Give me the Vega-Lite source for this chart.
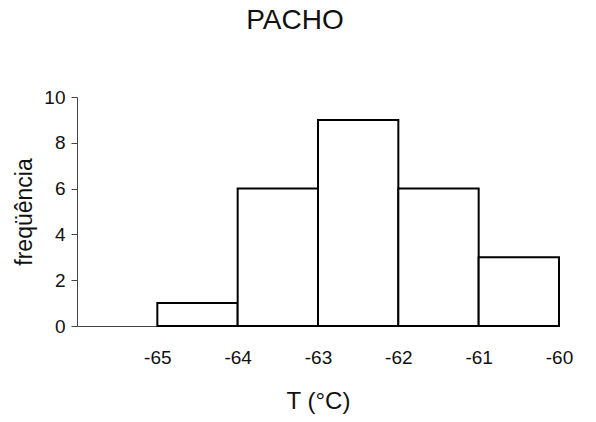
{
  "$schema": "https://vega.github.io/schema/vega-lite/v6.json",
  "width": 482,
  "height": 229,
  "autosize": {"type": "none"},
  "padding": {"left": 77, "top": 97, "right": 37, "bottom": 96},
  "background": "white",
  "title": {
    "text": "PACHO",
    "font": "Liberation Sans",
    "fontSize": 28,
    "fontWeight": "normal",
    "color": "#111",
    "anchor": "middle",
    "dx": -23,
    "dy": 6,
    "offset": 59
  },
  "config": {
    "view": {"stroke": null},
    "axis": {
      "labelFont": "Liberation Sans",
      "titleFont": "Liberation Sans",
      "labelColor": "#111",
      "titleColor": "#111",
      "titleFontWeight": "normal",
      "grid": false,
      "domainColor": "#444",
      "tickColor": "#444"
    }
  },
  "data": {
    "values": [
      {"t0": -65, "t1": -64, "count": 1},
      {"t0": -64, "t1": -63, "count": 6},
      {"t0": -63, "t1": -62, "count": 9},
      {"t0": -62, "t1": -61, "count": 6},
      {"t0": -61, "t1": -60, "count": 3}
    ]
  },
  "mark": {"type": "bar", "fill": "white", "stroke": "black", "strokeWidth": 2},
  "encoding": {
    "x": {
      "field": "t0",
      "type": "quantitative",
      "scale": {"domain": [-66, -60], "nice": false, "zero": false},
      "axis": {
        "title": "T (°C)",
        "values": [-65, -64, -63, -62, -61, -60],
        "labelExpr": "replace(datum.label, '−', '-')",
        "ticks": false,
        "labelFontSize": 19,
        "labelPadding": 22,
        "titleFontSize": 24,
        "titlePadding": 22,
        "labelFlush": false
      }
    },
    "x2": {"field": "t1"},
    "y": {
      "field": "count",
      "type": "quantitative",
      "scale": {"domain": [0, 10], "nice": false},
      "axis": {
        "title": "freqüência",
        "values": [0, 2, 4, 6, 8, 10],
        "tickSize": 6,
        "labelFontSize": 19,
        "labelPadding": 6,
        "titleFontSize": 23,
        "titlePadding": 7
      }
    },
    "y2": {"datum": 0}
  }
}
